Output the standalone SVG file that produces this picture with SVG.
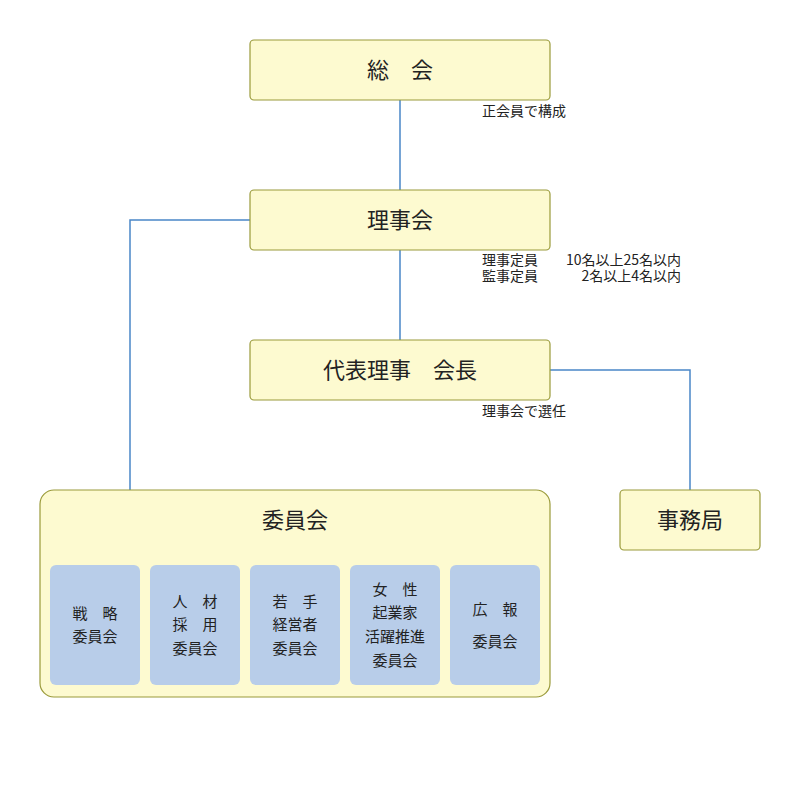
<svg xmlns="http://www.w3.org/2000/svg" width="800" height="800" viewBox="0 0 800 800">
<style>
.n{fill:#fdfad0;stroke:#9a9a3a;stroke-width:1.2}
.s{fill:#b8cde9;stroke:none}
text{font-family:"Noto Sans CJK JP","Noto Sans",sans-serif;fill:#222}
.t{font-size:22px;text-anchor:middle}
.st{font-size:15px;text-anchor:middle}
.nt{font-size:14px}
.e{text-anchor:end}
.c{fill:none;stroke:#4a86c8;stroke-width:1.5}
</style>
<rect width="800" height="800" fill="#fff"/>
<g id="connectors">
<path class="c" d="M400 100V190M400 250V340M250 220H130V490M550 370H690V490"/>
</g>
<g id="sokai"><rect class="n" x="250" y="40" width="300" height="60" rx="4"/><text class="t" x="400" y="78">総　会</text></g>
<g id="rijikai"><rect class="n" x="250" y="190" width="300" height="60" rx="4"/><text class="t" x="400" y="228">理事会</text></g>
<g id="daihyo"><rect class="n" x="250" y="340" width="300" height="60" rx="4"/><text class="t" x="400" y="378">代表理事　会長</text></g>
<g id="jimukyoku"><rect class="n" x="620" y="490" width="140" height="60" rx="4"/><text class="t" x="690" y="528">事務局</text></g>
<g id="notes">
<text class="nt" x="482" y="116">正会員で構成</text>
<text class="nt" x="482" y="265">理事定員</text>
<text class="nt e" x="681" y="265">10名以上25名以内</text>
<text class="nt" x="482" y="281">監事定員</text>
<text class="nt e" x="681" y="281">2名以上4名以内</text>
<text class="nt" x="482" y="416">理事会で選任</text>
</g>
<g id="iinkai"><rect class="n" x="40" y="490" width="510" height="207" rx="14"/><text class="t" x="295" y="528">委員会</text></g>
<g id="senryaku"><rect class="s" x="50" y="565" width="90" height="120" rx="6"/><text class="st" x="95" y="619">戦　略</text><text class="st" x="95" y="642">委員会</text></g>
<g id="jinzai"><rect class="s" x="150" y="565" width="90" height="120" rx="6"/><text class="st" x="195" y="607">人　材</text><text class="st" x="195" y="630">採　用</text><text class="st" x="195" y="654">委員会</text></g>
<g id="wakate"><rect class="s" x="250" y="565" width="90" height="120" rx="6"/><text class="st" x="295" y="607">若　手</text><text class="st" x="295" y="630">経営者</text><text class="st" x="295" y="654">委員会</text></g>
<g id="josei"><rect class="s" x="350" y="565" width="90" height="120" rx="6"/><text class="st" x="395" y="595">女　性</text><text class="st" x="395" y="618">起業家</text><text class="st" x="395" y="642">活躍推進</text><text class="st" x="395" y="666">委員会</text></g>
<g id="koho"><rect class="s" x="450" y="565" width="90" height="120" rx="6"/><text class="st" x="495" y="615">広　報</text><text class="st" x="495" y="647">委員会</text></g>
</svg>
